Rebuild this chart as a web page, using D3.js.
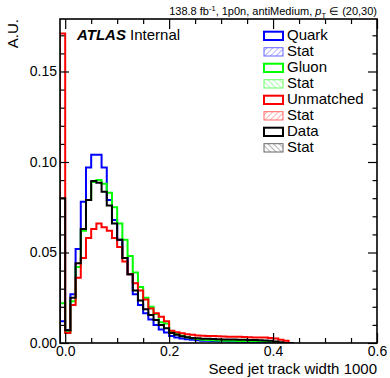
<!DOCTYPE html>
<html>
<head>
<meta charset="utf-8">
<script src="https://cdn.jsdelivr.net/npm/d3@7"></script>
<style>
  body { margin: 0; background: #fff; }
  svg { font-family: 'Liberation Sans', Arial, sans-serif; }
</style>
</head>
<body>
<div id="chart"><svg width="390" height="378"></svg></div>
<script>
// bin lower edges: -0.01 ... 0.43, width 0.01
const BIN_WIDTH = 0.01;
const BIN_LO = d3.range(45).map((i) => +(-0.01 + i * BIN_WIDTH).toFixed(2));

const QUARK = [
  0.012, 0.007, 0.027, 0.052, 0.078, 0.097, 0.104, 0.104, 0.097, 0.079,
  0.068, 0.057, 0.047, 0.038, 0.027, 0.021, 0.0165, 0.013, 0.0099, 0.0075,
  0.0058, 0.0038, 0.003, 0.0025, 0.0021, 0.0018, 0.0015, 0.0013, 0.0012, 0.0011,
  0.001, 0.0009, 0.0008, 0.0008, 0.0007, 0.0006, 0.0005, 0.0004, 0.0003, 0.0002,
  0.0001, 0, 0, 0, 0,
];
const GLUON = [
  0.022, 0.006, 0.023, 0.042, 0.062, 0.079, 0.089, 0.09, 0.088, 0.083,
  0.075, 0.066, 0.057, 0.048, 0.039, 0.031, 0.025, 0.02, 0.016, 0.0115,
  0.0108, 0.0062, 0.005, 0.004, 0.0032, 0.0026, 0.0022, 0.0018, 0.0016, 0.0015,
  0.0014, 0.0013, 0.0012, 0.0012, 0.0011, 0.0011, 0.001, 0.001, 0.0009, 0.0009,
  0.0008, 0.0004, 0, 0, 0,
];
const UNMATCHED = [
  0.171, 0.0055, 0.021, 0.036, 0.047, 0.058, 0.063, 0.066, 0.064, 0.062,
  0.058, 0.053, 0.045, 0.038, 0.033, 0.029, 0.024, 0.019, 0.0165, 0.0145,
  0.012, 0.0068, 0.006, 0.0054, 0.0048, 0.0045, 0.0042, 0.004, 0.0039, 0.0038,
  0.0037, 0.0036, 0.0035, 0.0035, 0.0034, 0.0033, 0.0032, 0.0031, 0.003, 0.003,
  0.0028, 0.0025, 0.0018, 0.0012, 0,
];
const DATA = [
  0.08, 0.007, 0.025, 0.044, 0.063, 0.079, 0.0895, 0.0886, 0.0836, 0.076,
  0.066, 0.057, 0.047, 0.038, 0.029, 0.0235, 0.0187, 0.0155, 0.0127, 0.01,
  0.0082, 0.0055, 0.0045, 0.0037, 0.0032, 0.0028, 0.0026, 0.0024, 0.0023, 0.0022,
  0.0021, 0.002, 0.002, 0.0019, 0.0018, 0.0018, 0.0017, 0.0016, 0.0015, 0.0014,
  0.0013, 0.0008, 0.0004, 0, 0,
];

const X_MAJOR = [0, 0.2, 0.4, 0.6];
const X_MINOR = [0.05, 0.1, 0.15, 0.25, 0.3, 0.35, 0.45, 0.5, 0.55];
const Y_MAJOR = [0, 0.05, 0.1, 0.15];
const Y_MINOR = [0.01, 0.02, 0.03, 0.04, 0.06, 0.07, 0.08, 0.09, 0.11, 0.12, 0.13, 0.14, 0.16, 0.17];

const SERIES = [
  { name: 'Quark', values: QUARK, color: '#0000ff', hatch: '#6666ff', dir: 1 },
  { name: 'Gluon', values: GLUON, color: '#00ff00', hatch: '#66ff66', dir: -1 },
  { name: 'Unmatched', values: UNMATCHED, color: '#ff0000', hatch: '#ff6666', dir: 1 },
  { name: 'Data', values: DATA, color: '#000000', hatch: '#666666', dir: -1 },
];

const SVG = d3.select('#chart svg');
const LEFT = 60, RIGHT = 377, TOP = 19, BOTTOM = 343;

const X = d3.scaleLinear().domain([-0.01, 0.6]).range([LEFT, RIGHT]);
const Y = d3.scaleLinear().domain([0, 0.179]).range([BOTTOM, TOP]);

// hatch patterns for the legend
const DEFS = SVG.append('defs');
SERIES.forEach((s, i) => {
  const p = DEFS.append('pattern')
    .attr('id', `hatch${i}`)
    .attr('patternUnits', 'userSpaceOnUse')
    .attr('width', 4)
    .attr('height', 4)
    .attr('patternTransform', `rotate(${s.dir * 45})`);
  p.append('line')
    .attr('x1', 0).attr('y1', 0).attr('x2', 0).attr('y2', 4)
    .style('stroke', s.hatch)
    .style('stroke-width', 1);
});
DEFS.append('clipPath').attr('id', 'frameClip')
  .append('rect')
  .attr('x', LEFT).attr('y', TOP)
  .attr('width', RIGHT - LEFT).attr('height', BOTTOM - TOP);

// histograms
const stepPoints = (vals) => {
  const pts = [[X(BIN_LO[0]), Y(0)]];
  vals.forEach((v, i) => {
    pts.push([X(BIN_LO[i]), Y(v)], [X(BIN_LO[i] + BIN_WIDTH), Y(v)]);
  });
  pts.push([X(BIN_LO[vals.length - 1] + BIN_WIDTH), Y(0)]);
  return pts;
};

SVG.append('g')
  .attr('id', 'hists')
  .attr('clip-path', 'url(#frameClip)')
  .selectAll('path')
  .data(SERIES)
  .join('path')
  .attr('d', (d) => d3.line()(stepPoints(d.values)))
  .style('fill', 'none')
  .style('stroke', (d) => d.color)
  .style('stroke-width', 2)
  .style('stroke-linejoin', 'miter');

// axes, ticks pointing inward on all four sides
const styleAxis = (g) => {
  g.select('.domain').remove();
  g.selectAll('line').style('stroke', '#000').style('stroke-width', 1.2);
  g.selectAll('text').style('font-size', '14px').style('fill', '#000');
};

SVG.append('g').attr('transform', `translate(0,${BOTTOM})`)
  .call(d3.axisBottom(X).tickValues(X_MAJOR).tickFormat(d3.format('.1f')).tickSize(-10).tickPadding(3))
  .call(styleAxis);
SVG.append('g').attr('transform', `translate(0,${BOTTOM})`)
  .call(d3.axisBottom(X).tickValues(X_MINOR).tickFormat('').tickSize(-5))
  .call(styleAxis);
SVG.append('g').attr('transform', `translate(0,${TOP})`)
  .call(d3.axisTop(X).tickValues(X_MAJOR).tickFormat('').tickSize(-10))
  .call(styleAxis);
SVG.append('g').attr('transform', `translate(0,${TOP})`)
  .call(d3.axisTop(X).tickValues(X_MINOR).tickFormat('').tickSize(-5))
  .call(styleAxis);

SVG.append('g').attr('transform', `translate(${LEFT},0)`)
  .call(d3.axisLeft(Y).tickValues(Y_MAJOR).tickFormat(d3.format('.2f')).tickSize(-9).tickPadding(3))
  .call(styleAxis);
SVG.append('g').attr('transform', `translate(${LEFT},0)`)
  .call(d3.axisLeft(Y).tickValues(Y_MINOR).tickFormat('').tickSize(-4.5))
  .call(styleAxis);
SVG.append('g').attr('transform', `translate(${RIGHT},0)`)
  .call(d3.axisRight(Y).tickValues(Y_MAJOR).tickFormat('').tickSize(-9))
  .call(styleAxis);
SVG.append('g').attr('transform', `translate(${RIGHT},0)`)
  .call(d3.axisRight(Y).tickValues(Y_MINOR).tickFormat('').tickSize(-4.5))
  .call(styleAxis);

SVG.append('rect')
  .attr('x', LEFT).attr('y', TOP)
  .attr('width', RIGHT - LEFT).attr('height', BOTTOM - TOP)
  .style('fill', 'none')
  .style('stroke', '#000')
  .style('stroke-width', 1.6);

// titles
SVG.append('text')
  .attr('x', RIGHT).attr('y', 374)
  .style('text-anchor', 'end')
  .style('font-size', '15px')
  .text('Seed jet track width 1000');

SVG.append('text')
  .attr('transform', `translate(18,${TOP}) rotate(-90)`)
  .style('text-anchor', 'end')
  .style('font-size', '15px')
  .text('A.U.');

const INFO = SVG.append('text')
  .attr('x', RIGHT).attr('y', 15)
  .style('text-anchor', 'end')
  .style('font-size', '11px');
INFO.append('tspan').text('138.8 fb');
INFO.append('tspan').attr('dy', -4).style('font-size', '7.5px').text('-1');
INFO.append('tspan').attr('dy', 4).text(', 1p0n, antiMedium, ');
INFO.append('tspan').style('font-style', 'italic').text('p');
INFO.append('tspan').attr('dy', 3).style('font-size', '7.5px').text('T');
INFO.append('tspan').attr('dy', -3).text(' \u2208 (20,30)');

const ATLAS = SVG.append('text').attr('x', 77).attr('y', 40).style('font-size', '15px');
ATLAS.append('tspan').style('font-weight', 'bold').style('font-style', 'italic').text('ATLAS');
ATLAS.append('tspan').text(' Internal');

// legend
const LEGEND_ROWS = [];
SERIES.forEach((s, i) => {
  LEGEND_ROWS.push({ label: s.name, stroke: s.color, fill: 'none', width: 2 });
  LEGEND_ROWS.push({ label: 'Stat', stroke: s.hatch, fill: `url(#hatch${i})`, width: 1 });
});

const LEGEND = SVG.append('g')
  .attr('id', 'legend')
  .selectAll('g')
  .data(LEGEND_ROWS)
  .join('g')
  .attr('transform', (d, i) => `translate(264,${40 + 16 * i})`);
LEGEND.append('rect')
  .attr('x', 0).attr('y', -8.3)
  .attr('width', 19).attr('height', 8.3)
  .style('fill', (d) => d.fill)
  .style('stroke', (d) => d.stroke)
  .style('stroke-width', (d) => d.width);
LEGEND.append('text')
  .attr('x', 23).attr('y', 0)
  .style('font-size', '15px')
  .text((d) => d.label);
</script>
</body>
</html>
